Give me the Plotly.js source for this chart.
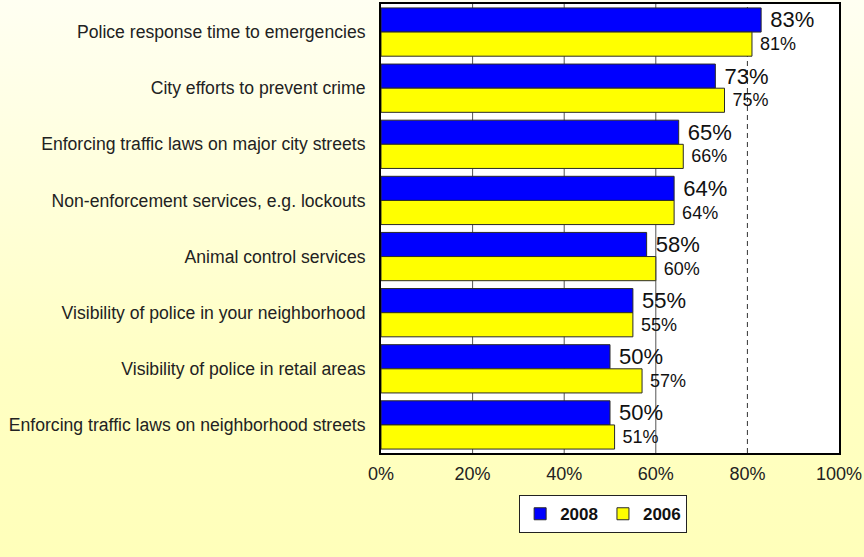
<!DOCTYPE html>
<html>
<head>
<meta charset="utf-8">
<script src="https://cdn.plot.ly/plotly-3.0.1.min.js"></script>
<style>
  html, body { margin: 0; padding: 0; }
  body {
    width: 864px; height: 557px; overflow: hidden;
    background: linear-gradient(to bottom, #FFFFF2 0%, #FFFFDA 35%, #FFFFC4 65%, #FFFFBA 100%);
  }
  #chart { width: 864px; height: 557px; }
</style>
</head>
<body>
<div id="chart"></div>
<script>
const categories = [
  "Police response time to emergencies",
  "City efforts to prevent crime",
  "Enforcing traffic laws on major city streets",
  "Non-enforcement services, e.g. lockouts",
  "Animal control services",
  "Visibility of police in your neighborhood",
  "Visibility of police in retail areas",
  "Enforcing traffic laws on neighborhood streets"
];
const values2008 = [83, 73, 65, 64, 58, 55, 50, 50];
const values2006 = [81, 75, 66, 64, 60, 55, 57, 51];
const seriesNames = ["2008", "2006"];
const xTickVals = [0, 20, 40, 60, 80, 100];
const xTickText = ["0%", "20%", "40%", "60%", "80%", "100%"];
const solidGridVals = [20, 40, 60];
const dashedGridVal = 80;

const FONT = "'Liberation Sans', Arial, sans-serif";

const traces = [
  {
    type: "bar", orientation: "h", name: seriesNames[0],
    y: categories, x: values2008,
    marker: { color: "#0000FF", line: { color: "#2a2a2a", width: 1 } },
    text: values2008.map(v => " " + v + "%"),
    textposition: "outside", cliponaxis: false, constraintext: "none",
    textfont: { family: FONT, size: 22, color: "#111" },
    hoverinfo: "skip"
  },
  {
    type: "bar", orientation: "h", name: seriesNames[1],
    y: categories, x: values2006,
    marker: { color: "#FFFF00", line: { color: "#2a2a2a", width: 1 } },
    text: values2006.map(v => " " + v + "%"),
    textposition: "outside", cliponaxis: false, constraintext: "none",
    textfont: { family: FONT, size: 18, color: "#111" },
    hoverinfo: "skip"
  }
];

const shapes = solidGridVals.map(v => ({
  type: "line", layer: "below", xref: "x", yref: "paper",
  x0: v, x1: v, y0: 0, y1: 1,
  line: { color: "#555", width: 1 }
}));
shapes.push({
  type: "line", layer: "below", xref: "x", yref: "paper",
  x0: dashedGridVal, x1: dashedGridVal, y0: 0, y1: 1,
  line: { color: "#333", width: 1, dash: "5px,4px" }
});

const layout = {
  width: 864, height: 557,
  margin: { l: 381, r: 25, t: 4, b: 104 },
  paper_bgcolor: "rgba(0,0,0,0)",
  plot_bgcolor: "#FFFFFF",
  font: { family: FONT, color: "#222" },
  barmode: "group",
  bargap: 0.14,
  bargroupgap: 0,
  showlegend: true,
  legend: {
    orientation: "h", x: 0.485, xanchor: "center", y: -0.094, yanchor: "top",
    bgcolor: "#FFFFFF", bordercolor: "#222", borderwidth: 1,
    font: { family: FONT, size: 17, color: "#111", weight: "bold" },
    itemwidth: 30, traceorder: "normal", tracegroupgap: 0
  },
  xaxis: {
    range: [0, 100], tickmode: "array", tickvals: xTickVals, ticktext: xTickText,
    showgrid: false, zeroline: false,
    showline: true, mirror: true, linecolor: "#000", linewidth: 2,
    ticks: "", ticklabelstandoff: 3,
    tickfont: { family: FONT, size: 18, color: "#222" },
    fixedrange: true
  },
  yaxis: {
    type: "category", autorange: "reversed",
    showgrid: false, zeroline: false,
    showline: true, mirror: true, linecolor: "#000", linewidth: 2,
    ticks: "", ticklabelstandoff: 10,
    tickfont: { family: FONT, size: 17.6, color: "#222" },
    fixedrange: true
  },
  shapes: shapes
};

Plotly.newPlot("chart", traces, layout, { staticPlot: true, displayModeBar: false });
</script>
</body>
</html>
